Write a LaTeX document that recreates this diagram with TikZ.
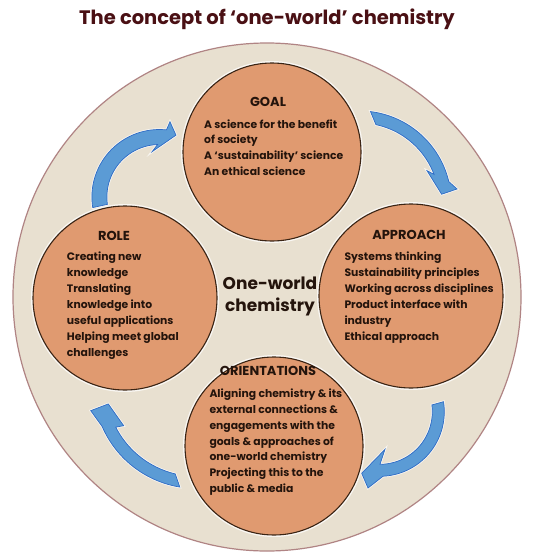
\documentclass[tikz,border=0pt]{standalone}
\usepackage{fontspec}
\setmainfont{Poppins}
\definecolor{bigfill}{HTML}{E8E0D0}
\definecolor{bigedge}{HTML}{B08484}
\definecolor{cfill}{HTML}{E09A70}
\definecolor{cedge}{HTML}{3A2414}
\definecolor{afill}{HTML}{5B9BD5}
\definecolor{aedge}{HTML}{2E6BC6}
\definecolor{txt}{HTML}{24140C}
\definecolor{ttl}{HTML}{4A1014}
\newcommand\arrowsetup[8]{\def\acx{#1}\def\acy{#2}\def\aR{#3}\def\aw{#4}\def\ata{#5}\def\atb{#6}\def\aboa{#7}\def\abia{#8}}
\newcommand\arrowdraw[6]{%
  \path[arrowshape] plot[domain=\ata:\aboa, samples=40] ({\acx+(\aR+\aw)*cos(\x)},{\acy-(\aR+\aw)*sin(\x)})
    -- ({\acx+#2*cos(#1)},{\acy-#2*sin(#1)})
    -- ({\acx+#4*cos(#3)},{\acy-#4*sin(#3)})
    -- ({\acx+#6*cos(#5)},{\acy-#6*sin(#5)})
    -- plot[domain=\abia:\atb, samples=40] ({\acx+(\aR-\aw)*cos(\x)},{\acy-(\aR-\aw)*sin(\x)})
    -- cycle;}
\begin{document}
\begin{tikzpicture}[x=1pt,y=-1pt,
  bigcircle/.style={circle, fill=bigfill, draw=bigedge, line width=1.2pt, inner sep=0pt},
  part/.style={circle, inner sep=0pt, preaction={draw=white!75!bigfill, line width=4pt}, fill=cfill, draw=cedge, line width=1.1pt},
  arrowshape/.style={preaction={draw=white!70!bigfill, line width=2.4pt}, fill=afill, draw=aedge, line width=0.7pt, line join=miter},
  heading/.style={font=\bfseries\fontsize{13}{15}\selectfont, text=txt, inner sep=0pt, anchor=base},
  body/.style={font=\bfseries\fontsize{10.8}{15.9}\selectfont, text=txt, inner sep=0pt, anchor=base west},
  ttlstyle/.style={font=\bfseries\fontsize{19.5}{23}\selectfont, text=ttl, inner sep=0pt, anchor=base},
  centre/.style={font=\bfseries\fontsize{17}{21}\selectfont, text=txt, inner sep=0pt, anchor=base}]
\useasboundingbox (0,0) rectangle (534,555);
\fill[white] (0,0) rectangle (534,555);
% title
\node[ttlstyle] (title) at (267,24) {The concept of ‘one-world’ chemistry};
% big circle
\node[bigcircle, minimum size=508pt] (world) at (267,297) {};
% part circles
\node[part, minimum size=178pt] (goal) at (272,152) {};
\node[part, minimum size=184pt] (role) at (125,298) {};
\node[part, minimum size=184pt] (approach) at (411,296) {};
\node[part, minimum size=178pt] (orient) at (274,446) {};
% arrows
\arrowsetup{159.4}{197}{60}{7.5}{189}{188}{84}{92}
\arrowdraw{82}{76}{75}{64}{99}{46}
\arrowsetup{359.3}{202.9}{86}{6}{83}{78}{13.4}{20.9}
\arrowdraw{8.1}{98.7}{6.0}{82.8}{25.4}{75}
\arrowsetup{379.8}{411.8}{58.5}{6}{9}{7.5}{-87.1}{-89.8}
\arrowdraw{-98.8}{77.1}{-106.4}{64.1}{-82.1}{37.9}
\arrowsetup{196.4}{385.7}{96.7}{6}{260.7}{256.5}{203.4}{207.2}
\arrowdraw{193.3}{108.6}{191.7}{90}{208.8}{83}
% centre text
\node[centre] (c1) at (270,289) {One-world};
\node[centre] (c2) at (270,311) {chemistry};
% GOAL
\node[heading] (goalh) at (268,106.5) {GOAL};
\foreach \t [count=\i from 0] in {A science for the benefit, of society, A ‘sustainability’ science, An ethical science}
  \node[body, name=goal\i] at (204,{128+15.9*\i}) {\t};
% ROLE
\node[heading] (roleh) at (114,240) {ROLE};
\foreach \t [count=\i from 0] in {Creating new, knowledge, Translating, knowledge into, useful applications, Helping meet global, challenges}
  \node[body, name=role\i] at (66.7,{260.7+15.9*\i}) {\t};
% APPROACH
\node[heading] (apph) at (409,239) {APPROACH};
\foreach \t [count=\i from 0] in {Systems thinking, Sustainability principles, Working across disciplines, Product interface with, industry, Ethical approach}
  \node[body, name=app\i] at (344.3,{260.7+15.9*\i}) {\t};
% ORIENTATIONS
\node[heading] (orih) at (268,375) {ORIENTATIONS};
\foreach \t [count=\i from 0] in {Aligning chemistry \& its, external connections \&, engagements with the, goals \& approaches of, one-world chemistry, Projecting this to the, public \& media}
  \node[body, name=ori\i] at (209.3,{397.3+15.9*\i}) {\t};
\end{tikzpicture}
\end{document}
